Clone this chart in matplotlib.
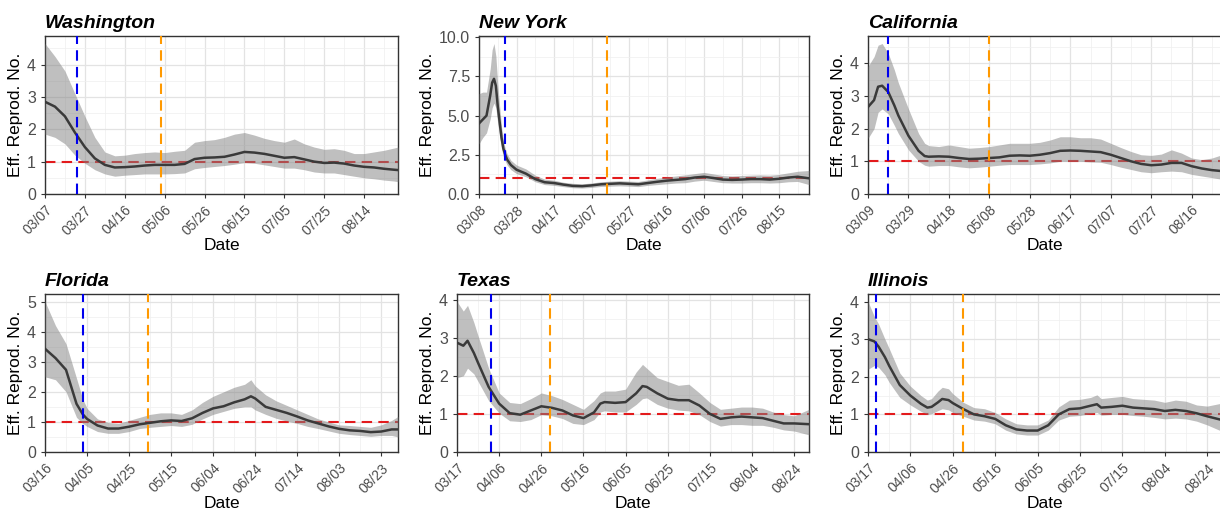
import datetime as dt

import matplotlib
matplotlib.use('Agg')
import matplotlib.pyplot as plt
import matplotlib.dates as mdates

plt.rcParams['font.family'] = ['Liberation Sans', 'DejaVu Sans']

# ---- data (days since first date of each state) ----
wa_start = '2020-03-07'
wa_days = [0, 5, 10, 15, 20, 25, 30, 35, 40, 45, 50, 55, 60, 65, 70, 75, 80, 85, 90,
           95, 100, 105, 110, 115, 120, 125, 130, 135, 140, 145, 150, 155, 160, 165,
           170, 175, 177]
wa_mean = [2.85, 2.7, 2.4, 1.9, 1.45, 1.1, 0.9, 0.82, 0.83, 0.85, 0.88, 0.9, 0.9, 0.9,
           0.93, 1.08, 1.12, 1.13, 1.15, 1.22, 1.3, 1.28, 1.24, 1.18, 1.12, 1.14, 1.07,
           1.0, 0.96, 0.97, 0.94, 0.88, 0.84, 0.82, 0.78, 0.75, 0.74]
wa_hi = [4.65, 4.25, 3.8, 3.1, 2.4, 1.75, 1.3, 1.18, 1.2, 1.25, 1.28, 1.3, 1.28, 1.32,
         1.35, 1.6, 1.65, 1.68, 1.75, 1.85, 1.9, 1.82, 1.72, 1.65, 1.6, 1.7, 1.55, 1.45,
         1.38, 1.4, 1.35, 1.25, 1.25, 1.3, 1.35, 1.42, 1.45]
wa_lo = [1.85, 1.75, 1.55, 1.2, 0.95, 0.75, 0.62, 0.55, 0.58, 0.6, 0.62, 0.62, 0.62,
         0.63, 0.65, 0.78, 0.82, 0.85, 0.88, 0.92, 0.97, 0.95, 0.9, 0.85, 0.8, 0.8, 0.75,
         0.68, 0.65, 0.65, 0.6, 0.55, 0.5, 0.47, 0.43, 0.4, 0.38]

ny_start = '2020-03-08'
ny_days = [0, 2, 4, 6, 7, 8, 9, 10, 11, 12, 13, 14, 15, 17, 20, 25, 30, 35, 40, 45, 50,
           55, 60, 65, 70, 75, 80, 85, 90, 95, 100, 105, 110, 115, 120, 125, 130, 135,
           140, 145, 150, 155, 160, 165, 170, 176]
ny_mean = [4.5, 4.75, 5.0, 6.3, 7.1, 7.35, 6.9, 5.6, 4.6, 3.6, 2.9, 2.5, 2.2, 1.85,
           1.55, 1.3, 0.95, 0.75, 0.7, 0.6, 0.52, 0.5, 0.55, 0.62, 0.65, 0.68, 0.65, 0.62,
           0.7, 0.78, 0.85, 0.9, 0.95, 1.05, 1.1, 1.02, 0.92, 0.9, 0.92, 0.95, 0.95, 0.92,
           0.97, 1.05, 1.1, 1.0]
ny_hi = [6.4, 6.5, 6.5, 8.0, 9.2, 9.6, 8.8, 7.0, 5.6, 4.3, 3.4, 2.9, 2.55, 2.15, 1.85,
         1.6, 1.2, 0.95, 0.88, 0.75, 0.68, 0.65, 0.7, 0.78, 0.82, 0.85, 0.82, 0.8, 0.9,
         1.0, 1.08, 1.15, 1.22, 1.3, 1.38, 1.28, 1.18, 1.15, 1.18, 1.2, 1.22, 1.2, 1.25,
         1.35, 1.45, 1.5]
ny_lo = [3.2, 3.6, 3.9, 4.8, 5.5, 5.8, 5.5, 4.5, 3.7, 2.9, 2.4, 2.1, 1.85, 1.55, 1.3,
         1.1, 0.78, 0.6, 0.55, 0.47, 0.4, 0.38, 0.42, 0.48, 0.5, 0.52, 0.5, 0.47, 0.55,
         0.6, 0.65, 0.7, 0.72, 0.82, 0.88, 0.8, 0.72, 0.7, 0.7, 0.72, 0.72, 0.7, 0.72,
         0.78, 0.8, 0.6]

ca_start = '2020-03-09'
ca_days = [0, 3, 5, 7, 10, 13, 15, 20, 25, 28, 30, 35, 40, 45, 50, 55, 60, 65, 70, 75,
           80, 85, 90, 95, 100, 105, 110, 115, 120, 125, 130, 135, 140, 145, 150, 155,
           160, 165, 170, 175]
ca_mean = [2.66, 2.87, 3.28, 3.31, 3.12, 2.71, 2.4, 1.78, 1.32, 1.16, 1.14, 1.15, 1.14,
           1.1, 1.07, 1.08, 1.1, 1.12, 1.17, 1.18, 1.17, 1.2, 1.25, 1.32, 1.33, 1.32, 1.3,
           1.28, 1.2, 1.1, 1.0, 0.92, 0.88, 0.9, 0.95, 0.95, 0.85, 0.78, 0.73, 0.7]
ca_hi = [3.9, 4.2, 4.55, 4.6, 4.3, 3.8, 3.4, 2.6, 1.85, 1.55, 1.48, 1.45, 1.5, 1.45,
         1.4, 1.42, 1.45, 1.5, 1.55, 1.55, 1.55, 1.58, 1.65, 1.75, 1.75, 1.72, 1.72,
         1.68, 1.55, 1.42, 1.3, 1.2, 1.18, 1.22, 1.35, 1.25, 1.1, 1.05, 1.1, 1.2]
ca_lo = [1.7, 2.0, 2.5, 2.6, 2.45, 2.1, 1.85, 1.35, 1.0, 0.88, 0.85, 0.87, 0.87, 0.83,
         0.8, 0.82, 0.85, 0.88, 0.9, 0.9, 0.9, 0.92, 0.95, 1.0, 1.0, 1.0, 0.98, 0.97,
         0.9, 0.82, 0.75, 0.68, 0.65, 0.68, 0.7, 0.68, 0.6, 0.55, 0.5, 0.45]

fl_start = '2020-03-16'
fl_days = [0, 5, 10, 15, 18, 20, 25, 30, 35, 40, 45, 50, 55, 60, 65, 70, 75, 80, 85, 90,
           95, 98, 100, 105, 110, 115, 120, 125, 130, 135, 140, 145, 150, 155, 160, 165,
           168]
fl_mean = [3.43, 3.12, 2.73, 1.6, 1.25, 1.1, 0.88, 0.78, 0.78, 0.84, 0.92, 0.97, 1.02,
           1.05, 1.03, 1.12, 1.3, 1.45, 1.52, 1.65, 1.75, 1.85, 1.78, 1.5, 1.4, 1.3, 1.18,
           1.05, 0.95, 0.85, 0.77, 0.72, 0.7, 0.66, 0.68, 0.75, 0.75]
fl_hi = [5.0, 4.2, 3.6, 2.45, 1.75, 1.45, 1.1, 0.98, 0.95, 1.05, 1.15, 1.25, 1.3, 1.3,
         1.25, 1.4, 1.65, 1.85, 2.0, 2.15, 2.25, 2.4, 2.2, 1.9, 1.7, 1.55, 1.4, 1.25, 1.1,
         1.0, 0.9, 0.88, 0.85, 0.82, 0.9, 1.05, 1.18]
fl_lo = [2.5, 2.4, 2.0, 1.15, 0.95, 0.85, 0.68, 0.62, 0.62, 0.68, 0.78, 0.82, 0.85,
         0.88, 0.85, 0.92, 1.1, 1.25, 1.35, 1.45, 1.5, 1.5, 1.4, 1.25, 1.12, 1.03, 0.95,
         0.85, 0.78, 0.7, 0.62, 0.58, 0.55, 0.52, 0.55, 0.55, 0.5]

tx_start = '2020-03-17'
tx_days = [0, 3, 5, 8, 10, 15, 20, 25, 30, 35, 40, 45, 50, 55, 60, 65, 68, 70, 75, 80,
           85, 88, 90, 95, 100, 105, 110, 115, 120, 125, 130, 135, 140, 145, 150, 155,
           160, 167]
tx_mean = [2.87, 2.79, 2.92, 2.6, 2.34, 1.71, 1.27, 1.02, 0.98, 1.09, 1.2, 1.16, 1.09,
           0.96, 0.89, 1.04, 1.27, 1.31, 1.29, 1.31, 1.54, 1.73, 1.71, 1.54, 1.4, 1.36,
           1.36, 1.22, 1.0, 0.87, 0.91, 0.93, 0.91, 0.89, 0.82, 0.75, 0.75, 0.73]
tx_hi = [3.95, 3.7, 3.85, 3.4, 3.05, 2.2, 1.55, 1.3, 1.27, 1.4, 1.55, 1.48, 1.38, 1.25,
         1.12, 1.35, 1.55, 1.6, 1.6, 1.65, 2.1, 2.3, 2.2, 1.95, 1.85, 1.75, 1.78, 1.55,
         1.3, 1.12, 1.15, 1.18, 1.18, 1.15, 1.05, 0.98, 0.95, 1.12]
tx_lo = [1.95, 2.0, 2.2, 2.05, 1.85, 1.35, 1.02, 0.82, 0.8, 0.85, 0.98, 0.95, 0.88,
         0.75, 0.72, 0.85, 1.05, 1.08, 1.05, 1.05, 1.25, 1.4, 1.42, 1.25, 1.15, 1.1,
         1.08, 0.98, 0.8, 0.68, 0.72, 0.72, 0.7, 0.7, 0.65, 0.58, 0.55, 0.45]

il_start = '2020-03-17'
il_days = [0, 3, 5, 8, 10, 15, 20, 25, 28, 30, 33, 35, 38, 40, 45, 50, 55, 60, 65, 70,
           75, 80, 85, 90, 95, 100, 105, 108, 110, 115, 120, 125, 130, 135, 140, 145,
           150, 155, 160, 167]
il_mean = [3.0, 2.94, 2.8, 2.52, 2.29, 1.78, 1.5, 1.28, 1.18, 1.2, 1.32, 1.41, 1.38,
           1.3, 1.14, 1.0, 0.95, 0.88, 0.71, 0.6, 0.57, 0.57, 0.71, 1.0, 1.14, 1.16, 1.23,
           1.27, 1.18, 1.2, 1.23, 1.18, 1.16, 1.14, 1.09, 1.12, 1.09, 1.03, 0.95, 0.85]
il_hi = [4.0, 3.6, 3.4, 3.0, 2.75, 2.1, 1.75, 1.5, 1.38, 1.42, 1.62, 1.72, 1.68, 1.55,
         1.32, 1.18, 1.15, 1.05, 0.88, 0.75, 0.72, 0.72, 0.85, 1.2, 1.38, 1.4, 1.45,
         1.52, 1.42, 1.45, 1.48, 1.42, 1.4, 1.38, 1.32, 1.38, 1.35, 1.25, 1.22, 1.3]
il_lo = [2.2, 2.3, 2.25, 2.05, 1.85, 1.45, 1.25, 1.08, 1.0, 1.02, 1.1, 1.15, 1.12,
         1.05, 0.95, 0.85, 0.82, 0.75, 0.58, 0.48, 0.45, 0.45, 0.58, 0.85, 0.95, 0.97,
         1.02, 1.05, 0.98, 1.0, 1.0, 0.97, 0.95, 0.92, 0.88, 0.9, 0.88, 0.82, 0.72, 0.55]

# stay-at-home order / reopening dates
stay_dates = {'Washington': '2020-03-23', 'New York': '2020-03-22',
              'California': '2020-03-19', 'Florida': '2020-04-03',
              'Texas': '2020-04-02', 'Illinois': '2020-03-21'}
reopen_dates = {'Washington': '2020-05-04', 'New York': '2020-05-15',
                'California': '2020-05-08', 'Florida': '2020-05-04',
                'Texas': '2020-04-30', 'Illinois': '2020-05-01'}


def draw(ax, name, start, days, mean, lo, hi, yticks, ytick_labels):
    t0 = dt.date.fromisoformat(start)
    x = [t0 + dt.timedelta(days=d) for d in days]

    ax.axhline(1, color='#E31A1C', ls=(0, (5, 3)), lw=1.5, zorder=2)
    ax.fill_between(x, lo, hi, color='#808080', alpha=0.5, lw=0, zorder=3)
    ax.plot(x, mean, color='#3A3A3A', lw=1.8, zorder=4)
    ax.axvline(dt.date.fromisoformat(stay_dates[name]), color='#0000EE',
               ls=(0, (5, 3)), lw=1.5, zorder=5)
    ax.axvline(dt.date.fromisoformat(reopen_dates[name]), color='#FF9900',
               ls=(0, (5, 3)), lw=1.5, zorder=5)

    ax.set_xlim(x[0], x[-1])
    ax.set_ylim(0, max(hi) * 1.05)

    major = [t0 + dt.timedelta(days=k) for k in range(0, days[-1] + 1, 20)]
    minor = [t0 + dt.timedelta(days=k) for k in range(10, days[-1] + 1, 20)]
    ax.set_xticks(major)
    ax.set_xticks(minor, minor=True)
    ax.xaxis.set_major_formatter(mdates.DateFormatter('%m/%d'))
    ax.set_yticks(yticks)
    ax.set_yticklabels(ytick_labels)
    step = yticks[1] - yticks[0]
    ax.set_yticks([v + step / 2 for v in yticks if v + step / 2 < max(hi) * 1.05],
                  minor=True)

    ax.grid(which='major', color='#E3E3E3', lw=0.9, zorder=0)
    ax.grid(which='minor', color='#EFEFEF', lw=0.5, zorder=0)
    ax.set_axisbelow(True)
    for s in ax.spines.values():
        s.set_color('#333333')
        s.set_linewidth(1.0)
    ax.tick_params(which='major', length=3, width=0.8, color='#333333',
                   labelcolor='#4D4D4D', labelsize=10.5)
    ax.tick_params(which='minor', length=0)
    plt.setp(ax.get_xticklabels(), rotation=45, ha='right', rotation_mode='anchor',
             fontsize=10)
    ax.tick_params(axis='y', labelsize=11.5)

    ax.set_title(name, loc='left', fontsize=14, fontweight='bold',
                 fontstyle='italic', pad=6)
    ax.set_ylabel('Eff. Reprod. No.', fontsize=12.5, labelpad=3)
    ax.set_xlabel('Date', fontsize=12.5, labelpad=0)


W, H = 1220, 512
fig = plt.figure(figsize=(W / 100, H / 100), dpi=100)


def box(left, right, top, bottom):
    return [left / W, 1 - bottom / H, (right - left) / W, (bottom - top) / H]


ax_wa = fig.add_axes(box(45, 398, 36, 194))
ax_ny = fig.add_axes(box(479, 809, 36, 194))
ax_ca = fig.add_axes(box(868, 1222, 36, 194))
ax_fl = fig.add_axes(box(45, 398, 294, 452))
ax_tx = fig.add_axes(box(457, 809, 294, 452))
ax_il = fig.add_axes(box(868, 1222, 294, 452))

draw(ax_wa, 'Washington', wa_start, wa_days, wa_mean, wa_lo, wa_hi,
     [0, 1, 2, 3, 4], ['0', '1', '2', '3', '4'])
draw(ax_ny, 'New York', ny_start, ny_days, ny_mean, ny_lo, ny_hi,
     [0, 2.5, 5, 7.5, 10], ['0.0', '2.5', '5.0', '7.5', '10.0'])
draw(ax_ca, 'California', ca_start, ca_days, ca_mean, ca_lo, ca_hi,
     [0, 1, 2, 3, 4], ['0', '1', '2', '3', '4'])
draw(ax_fl, 'Florida', fl_start, fl_days, fl_mean, fl_lo, fl_hi,
     [0, 1, 2, 3, 4, 5], ['0', '1', '2', '3', '4', '5'])
draw(ax_tx, 'Texas', tx_start, tx_days, tx_mean, tx_lo, tx_hi,
     [0, 1, 2, 3, 4], ['0', '1', '2', '3', '4'])
draw(ax_il, 'Illinois', il_start, il_days, il_mean, il_lo, il_hi,
     [0, 1, 2, 3, 4], ['0', '1', '2', '3', '4'])

fig.savefig('out.png', dpi=100)
